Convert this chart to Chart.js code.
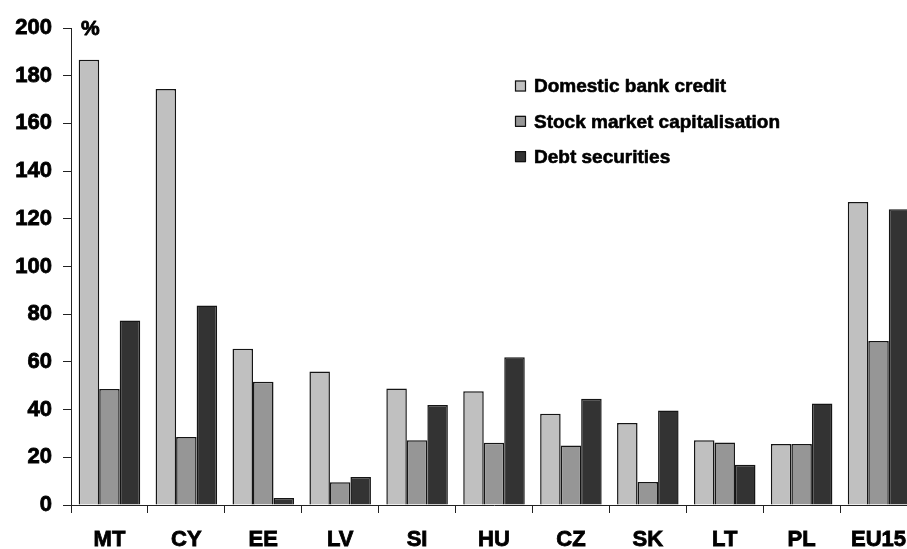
<!DOCTYPE html>
<html>
<head>
<meta charset="utf-8">
<script src="https://cdn.jsdelivr.net/npm/chart.js@4"></script>
<style>
  html, body { margin: 0; padding: 0; background: #fff; overflow: hidden; }
  #wrap { width: 925px; height: 549px; }
</style>
</head>
<body>
<div id="wrap"><canvas id="c" width="925" height="549"></canvas></div>
<script>
// Financial structure, % of GDP
const categories = ['MT', 'CY', 'EE', 'LV', 'SI', 'HU', 'CZ', 'SK', 'LT', 'PL', 'EU15'];
const bankCredit = [186.7, 174.4, 65.5, 56.0, 48.8, 47.7, 38.3, 34.4, 27.2, 25.6, 127.0];
const stockMarket = [48.6, 28.5, 51.7, 9.5, 27.1, 26.1, 24.9, 9.6, 26.2, 25.6, 68.8];
const debtSecurities = [77.4, 83.6, 2.9, 11.7, 41.9, 62.0, 44.6, 39.6, 16.9, 42.6, 124.0];
const seriesNames = ['Domestic bank credit', 'Stock market capitalisation', 'Debt securities'];
const yTicks = [0, 20, 40, 60, 80, 100, 120, 140, 160, 180, 200];
const unitLabel = '%';

const FONT = '"Liberation Sans", Arial, sans-serif';
const fills = ['#c0c0c0', '#969696', '#333333'];

// draw heavy bold text (fill plus thin outline)
function heavyText(ctx, txt, x, y, w) {
  ctx.lineWidth = w;
  ctx.strokeStyle = '#000';
  ctx.lineJoin = 'round';
  ctx.strokeText(txt, x, y);
  ctx.fillText(txt, x, y);
}

// "%" unit marker next to the top of the value axis
const unitPlugin = {
  id: 'unitMark',
  afterDraw(chart) {
    const { ctx, chartArea } = chart;
    ctx.save();
    ctx.font = 'bold 21px ' + FONT;
    ctx.fillStyle = '#000';
    ctx.textBaseline = 'middle';
    ctx.textAlign = 'left';
    heavyText(ctx, unitLabel, chartArea.left + 10, chartArea.top + 1, 0.8);
    ctx.restore();
  }
};

// Stacked legend placed inside the plot area
const boxLegend = {
  id: 'boxLegend',
  afterDraw(chart) {
    const { ctx, chartArea } = chart;
    const x0 = chartArea.left + 444;
    const y0 = chartArea.top + 58;
    ctx.save();
    ctx.font = 'bold 19px ' + FONT;
    ctx.textBaseline = 'middle';
    ctx.textAlign = 'left';
    chart.data.datasets.forEach((ds, i) => {
      const cy = y0 + i * 35.3;
      ctx.fillStyle = ds.backgroundColor;
      ctx.fillRect(x0, cy - 5.5, 11, 11);
      ctx.strokeStyle = '#111';
      ctx.lineWidth = 1.2;
      ctx.strokeRect(x0 + 0.5, cy - 5, 10, 10);
      ctx.fillStyle = '#000';
      heavyText(ctx, ds.label, x0 + 19, cy + 1, 0.6);
    });
    ctx.restore();
  }
};

new Chart(document.getElementById('c'), {
  type: 'bar',
  data: {
    labels: categories,
    datasets: [bankCredit, stockMarket, debtSecurities].map((vals, i) => ({
      label: seriesNames[i],
      data: vals,
      backgroundColor: fills[i],
      borderColor: '#151515',
      borderWidth: 1.5,
      borderSkipped: 'bottom',
      categoryPercentage: 0.8,
      barPercentage: 1.0
    }))
  },
  options: {
    responsive: false,
    animation: false,
    events: [],
    layout: { padding: { left: 0, right: 8, top: 28, bottom: 0 } },
    plugins: {
      legend: { display: false },
      tooltip: { enabled: false },
      title: { display: false }
    },
    scales: {
      x: {
        grid: {
          display: true,
          offset: true,
          drawOnChartArea: false,
          drawTicks: true,
          tickLength: 8,
          color: '#222',
          lineWidth: 1
        },
        border: { display: true, color: '#222', width: 1 },
        ticks: {
          color: '#000',
          font: { family: FONT, size: 22, weight: 'bold' },
          textStrokeColor: '#000',
          textStrokeWidth: 0.8,
          padding: 14,
          maxRotation: 0,
          autoSkip: false
        },
        afterFit(scale) { scale.height = 44; }
      },
      y: {
        min: 0,
        max: 200,
        afterBuildTicks(scale) { scale.ticks = yTicks.map(v => ({ value: v })); },
        grid: {
          display: true,
          drawOnChartArea: false,
          drawTicks: true,
          tickLength: 8,
          color: '#222',
          lineWidth: 1
        },
        border: { display: true, color: '#222', width: 1 },
        ticks: {
          color: '#000',
          font: { family: FONT, size: 22, weight: 'bold' },
          textStrokeColor: '#000',
          textStrokeWidth: 0.8,
          padding: 11
        },
        afterFit(scale) { scale.width = 71; }
      }
    }
  },
  plugins: [unitPlugin, boxLegend]
});
</script>
</body>
</html>
